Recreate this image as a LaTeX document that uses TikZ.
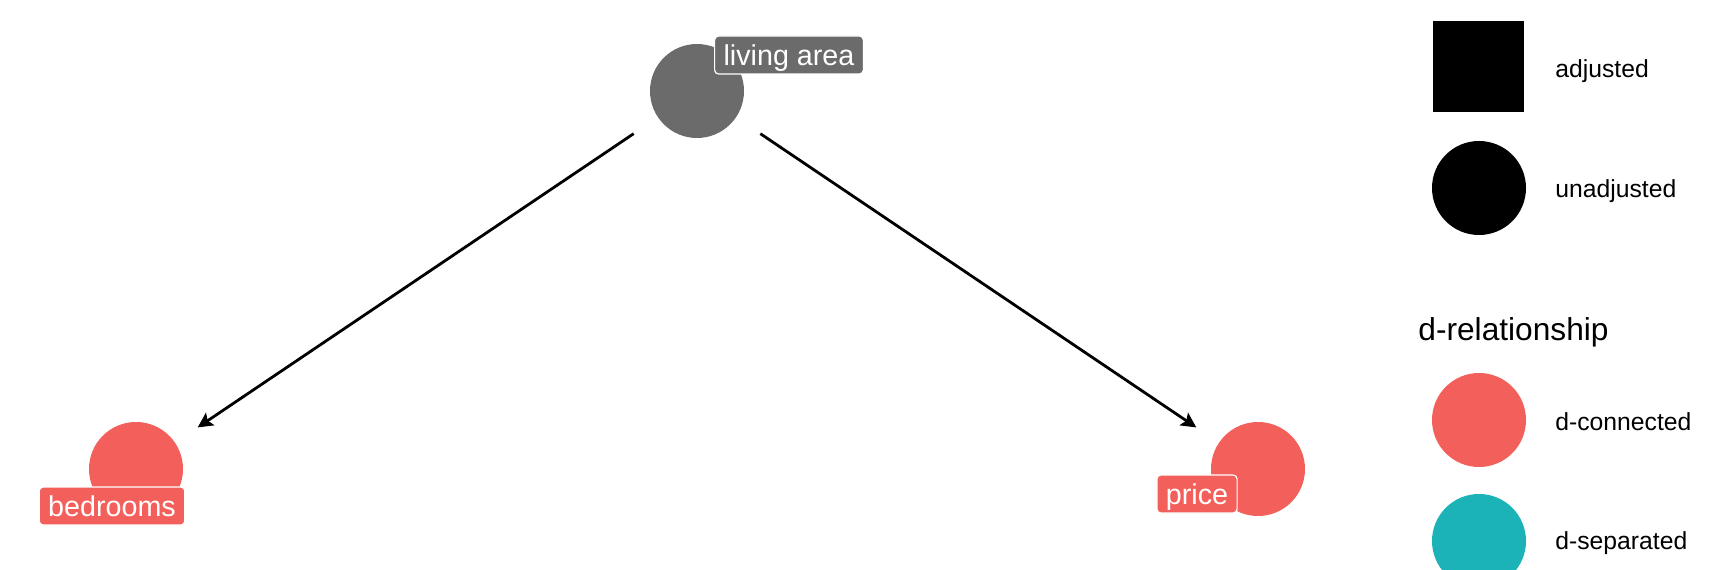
\documentclass[tikz,border=0pt]{standalone}
\usepackage{fontspec}
\setmainfont{Liberation Sans}
\usepackage{xcolor}
\usepackage{tikz}
\usetikzlibrary{positioning,arrows.meta}
\definecolor{areagray}{HTML}{6B6B6B}
\definecolor{dconn}{HTML}{F35F5B}
\definecolor{dsep}{HTML}{1BB3B7}

\begin{document}
\begin{tikzpicture}[x=0.5bp, y=-0.5bp,
  dagnode/.style={circle, inner sep=0pt, minimum size=47bp},
  lbl/.style={draw=white, line width=0.6bp, rounded corners=2bp, text=white,
              font=\fontsize{14.4}{16}\selectfont, inner xsep=4.5bp, inner ysep=0pt,
              text height=10.5bp, text depth=0bp, minimum height=19bp},
  keysq/.style={rectangle, fill=black, inner sep=0pt, minimum size=45.5bp},
  keydot/.style={circle, inner sep=0pt, minimum size=47bp},
  keytxt/.style={anchor=west, inner sep=0pt, font=\fontsize{12.4}{14}\selectfont},
  arr/.style={-{Stealth[length=7.5bp, width=7.5bp, inset=1.5bp]}, line width=1.4bp,
              shorten <=14.5bp, shorten >=13.5bp}]
\clip (0,0) rectangle (1728,570);
% dag
\node[dagnode, fill=areagray] (area) at (697,91) {};
\node[dagnode, fill=dconn] (bedrooms) at (136,469) {};
\node[dagnode, fill=dconn] (price) at (1258,469) {};
\node[lbl, fill=areagray] (arealbl) at (789,55) {living area};
\node[lbl, fill=dconn] (bedlbl) at (112,506) {bedrooms};
\node[lbl, fill=dconn] (pricelbl) at (1197,494) {price};
\draw[arr] (area) -- (bedrooms);
\draw[arr] (area) -- (price);
% legend
\node[keysq] (adjkey) at (1478,67) {};
\node[keytxt] (adjtxt) at (1555,71) {adjusted};
\node[keydot, fill=black] (unadjkey) at (1479,188) {};
\node[keytxt] (unadjtxt) at (1555,191) {unadjusted};
\node[keytxt, font=\fontsize{15.9}{18}\selectfont] (reltitle) at (1418,332) {d-relationship};
\node[keydot, fill=dconn] (connkey) at (1479,420) {};
\node[keytxt] (conntxt) at (1555,422) {d-connected};
\node[keydot, fill=dsep] (sepkey) at (1479,541) {};
\node[keytxt] (septxt) at (1555,543) {d-separated};
\end{tikzpicture}
\end{document}
